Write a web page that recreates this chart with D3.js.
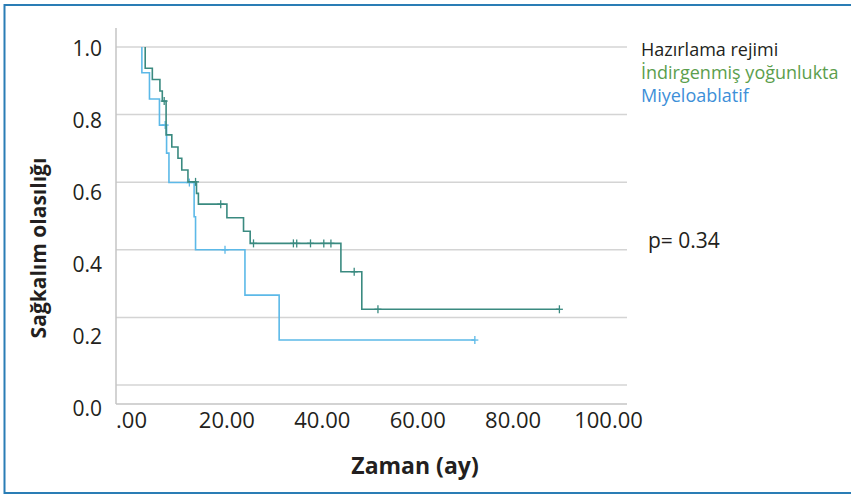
<!DOCTYPE html>
<html>
<head>
<meta charset="utf-8">
<script src="https://cdn.jsdelivr.net/npm/d3@7"></script>
<style>
  html, body { margin: 0; padding: 0; background: #fff; }
  svg { display: block; }
  text { font-family: "Open Sans", "Noto Sans", sans-serif; fill: #231f20; }
</style>
</head>
<body>
<svg id="chart" width="851" height="495"></svg>
<script>
// ---------- data ----------
const xTickValues = [0, 20, 40, 60, 80, 100];
const xTickLabels = [".00", "20.00", "40.00", "60.00", "80.00", "100.00"];
const yTickValues = [0, 0.2, 0.4, 0.6, 0.8, 1.0];
const yTickLabels = ["0.0", "0.2", "0.4", "0.6", "0.8", "1.0"];

const legendTitle = "Hazırlama rejimi";
const seriesNames = ["İndirgenmiş yoğunlukta", "Miyeloablatif"];

// Kaplan–Meier steps: [time (months), survival after the event]
const reducedStart = 3.2;
const reducedSteps = [
  [3.2, 0.937], [4.7, 0.904], [6.3, 0.870], [6.8, 0.840], [7.6, 0.740],
  [8.8, 0.704], [10.1, 0.671], [10.9, 0.636], [12.2, 0.601], [14.0, 0.567],
  [14.4, 0.535], [20.4, 0.495], [23.9, 0.455], [25.3, 0.419], [44.4, 0.335],
  [48.8, 0.224]
];
const reducedEnd = 90.4;
const reducedCensored = [7.2, 13.8, 19.1, 26.0, 34.4, 35.1, 38.0, 40.8, 42.3, 47.2, 52.2, 90.4];

const myeloStart = 2.5;
const myeloSteps = [
  [2.5, 0.924], [4.1, 0.846], [6.2, 0.769], [7.7, 0.686], [8.2, 0.599],
  [13.5, 0.498], [13.8, 0.400], [24.2, 0.266], [31.4, 0.133]
];
const myeloEnd = 72.6;
const myeloCensored = [7.4, 12.5, 20.0, 72.6];

const pText = "p= 0.34";
const xTitle = "Zaman (ay)";
const yTitle = "Sağkalım olasılığı";

// ---------- layout ----------
const plotLeft = 116, plotRight = 627, plotTop = 28, axisY = 404;
const colors = { reduced: "#3a8a80", myelo: "#5cb9e8", legendGreen: "#5b9e4d", legendBlue: "#3d8fd8" };

const svg = d3.select("#chart");

// frame
svg.append("rect")
  .attr("x", 4.5).attr("y", 5).attr("width", 870).attr("height", 488)
  .attr("fill", "none").attr("stroke", "#2a7db5").attr("stroke-width", 2);

// scales
const x = d3.scaleLinear().domain([0, 100]).range([130, 605]);
const xLab = d3.scaleLinear().domain([0, 100]).range([131, 608]);
const y = d3.scaleLinear().domain([0, 1]).range([385, 47]);
const yLab = d3.scaleLinear().domain([0, 1]).range([409, 49]);

// gridlines
svg.append("g").selectAll("line").data(yTickValues).join("line")
  .attr("x1", plotLeft).attr("x2", plotRight)
  .attr("y1", d => y(d)).attr("y2", d => y(d))
  .attr("stroke", "#d4d4d4").attr("stroke-width", 1.5);

// axis lines
svg.append("line").attr("x1", plotLeft).attr("x2", plotLeft)
  .attr("y1", plotTop).attr("y2", axisY)
  .attr("stroke", "#c4c4c4").attr("stroke-width", 1.5);
svg.append("line").attr("x1", plotLeft).attr("x2", plotRight)
  .attr("y1", axisY).attr("y2", axisY)
  .attr("stroke", "#c4c4c4").attr("stroke-width", 1.5);

// y tick labels
const yAxis = svg.append("g").attr("transform", `translate(${plotLeft},0)`)
  .call(d3.axisLeft(yLab).tickValues(yTickValues).tickSize(0).tickPadding(14)
    .tickFormat((d, i) => yTickLabels[i]));
yAxis.select(".domain").remove();
yAxis.selectAll("text").style("font-size", "21px").attr("fill", "#231f20")
  .style("font-family", '"Open Sans", sans-serif');

// x tick labels
const xAxis = svg.append("g").attr("transform", `translate(0,${axisY})`)
  .call(d3.axisBottom(xLab).tickValues(xTickValues).tickSize(0).tickPadding(8)
    .tickFormat((d, i) => xTickLabels[i]));
xAxis.select(".domain").remove();
xAxis.selectAll("text").style("font-size", "22px").attr("fill", "#231f20")
  .style("font-family", '"Open Sans", sans-serif');

// curves
const line = d3.line().x(d => x(d[0])).y(d => y(d[1])).curve(d3.curveStepAfter);
function kmPoints(start, steps, end) {
  const pts = [[start, 1]].concat(steps);
  pts.push([end, steps[steps.length - 1][1]]);
  return pts;
}
function survivalAt(steps, t) {
  let s = 1;
  for (const [tt, v] of steps) { if (tt <= t) s = v; }
  return s;
}
function drawSeries(start, steps, end, censored, color) {
  svg.append("path").datum(kmPoints(start, steps, end))
    .attr("d", line).attr("fill", "none")
    .attr("stroke", color).attr("stroke-width", 1.6);
  const g = svg.append("g").attr("stroke", color).attr("stroke-width", 1.3);
  censored.forEach(t => {
    const cx = x(t), cy = y(survivalAt(steps, t));
    g.append("line").attr("x1", cx - 3.5).attr("x2", cx + 3.5).attr("y1", cy).attr("y2", cy);
    g.append("line").attr("x1", cx).attr("x2", cx).attr("y1", cy - 4).attr("y2", cy + 4);
  });
}
drawSeries(myeloStart, myeloSteps, myeloEnd, myeloCensored, colors.myelo);
drawSeries(reducedStart, reducedSteps, reducedEnd, reducedCensored, colors.reduced);

// legend
const legend = svg.append("g").attr("transform", "translate(641,0)")
  .style("font-size", "18px");
legend.append("text").attr("x", 0).attr("y", 56).text(legendTitle).attr("fill", "#231f20");
legend.append("text").attr("x", 0).attr("y", 79).text(seriesNames[0]).style("fill", colors.legendGreen);
legend.append("text").attr("x", 0).attr("y", 102).text(seriesNames[1]).style("fill", colors.legendBlue);

// p value
svg.append("text").attr("x", 648).attr("y", 248).style("font-size", "21px").text(pText);

// titles
svg.append("text").attr("x", 415).attr("y", 474).attr("text-anchor", "middle")
  .style("font-size", "23px").style("font-weight", "bold").text(xTitle);
svg.append("text").attr("transform", "translate(46,248) rotate(-90)")
  .attr("text-anchor", "middle")
  .style("font-size", "21px").style("font-weight", "bold").text(yTitle);
</script>
</body>
</html>
